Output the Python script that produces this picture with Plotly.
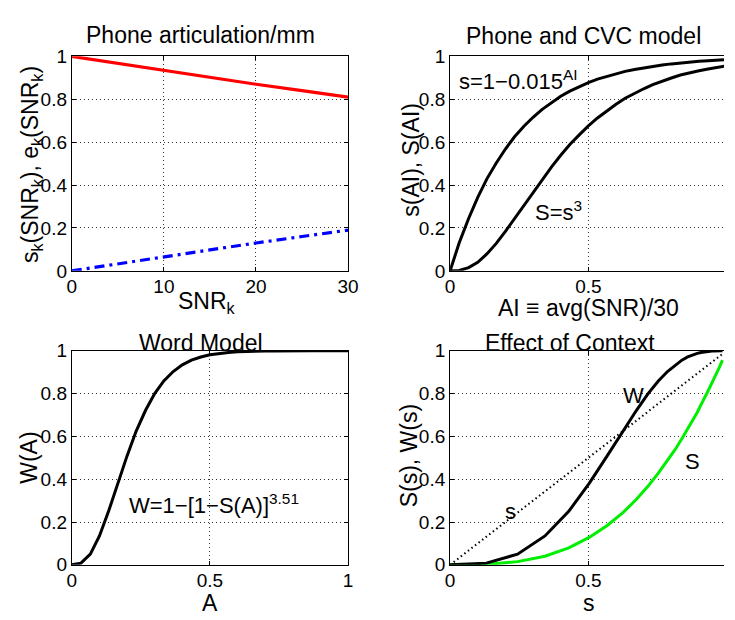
import plotly.graph_objects as go

# ---------------- data ----------------
snr = [0, 5, 10, 15, 20, 25, 30]
s_snr = [1.0, 0.967, 0.934, 0.902, 0.870, 0.840, 0.810]
e_snr = [0.0, 0.033, 0.066, 0.098, 0.130, 0.160, 0.190]

A_vals = [0.0, 0.033, 0.067, 0.1, 0.133, 0.167, 0.2, 0.233, 0.267, 0.3, 0.333,
          0.367, 0.4, 0.433, 0.467, 0.5, 0.533, 0.567, 0.6, 0.633, 0.667,
          0.7, 0.733, 0.767, 0.8, 0.833, 0.867, 0.9, 0.933, 0.967, 1.0]
s_vals = [0.0, 0.131, 0.244, 0.343, 0.429, 0.503, 0.568, 0.625, 0.674, 0.716, 0.753,
          0.786, 0.814, 0.838, 0.859, 0.878, 0.894, 0.907, 0.920, 0.930, 0.939,
          0.947, 0.954, 0.960, 0.965, 0.970, 0.974, 0.977, 0.980, 0.983, 0.985]
S_vals = [0.0, 0.002, 0.015, 0.040, 0.079, 0.128, 0.184, 0.244, 0.306, 0.368, 0.428,
          0.485, 0.539, 0.589, 0.634, 0.676, 0.713, 0.747, 0.777, 0.805, 0.829,
          0.849, 0.868, 0.885, 0.899, 0.913, 0.924, 0.933, 0.941, 0.950, 0.956]
W_vals = [0.0, 0.008, 0.050, 0.135, 0.250, 0.381, 0.509, 0.625, 0.722, 0.800, 0.859,
          0.903, 0.934, 0.956, 0.971, 0.981, 0.988, 0.992, 0.995, 0.997, 0.998,
          0.999, 0.999, 1.0, 1.0, 1.0, 1.0, 1.0, 1.0, 1.0, 1.0]

y_ticks = [0, 0.2, 0.4, 0.6, 0.8, 1]
snr_ticks = [0, 10, 20, 30]
unit_ticks = [0, 0.5, 1]

# ---------------- geometry ----------------
W, H = 735, 620          # final picture size
FONT = "Liberation Sans, Arial, Helvetica, sans-serif"
TXT = 23                 # titles, axis labels
TICK = 19


def px(x):
    return x / W


def py(y):
    return 1 - y / H


R0, RSCALE = 455.0, 282.7
right_max = (W - R0) / RSCALE      # the picture's right edge clips the right-hand axes just before x=1

left_dom = [px(68.3), px(350.7)]
right_dom = [px(R0), 1.0]
top_dom = [py(270.0), py(48.0)]
bot_dom = [py(574.3), py(352.7)]

fig = go.Figure()

fig.add_trace(go.Scatter(x=snr, y=s_snr, mode="lines", line=dict(color="#ff0000", width=3.2),
                         xaxis="x", yaxis="y", showlegend=False))
fig.add_trace(go.Scatter(x=snr, y=e_snr, mode="lines",
                         line=dict(color="#0000ff", width=3.2, dash="10px,5px,3px,5px"),
                         xaxis="x", yaxis="y", showlegend=False))
fig.add_trace(go.Scatter(x=A_vals, y=s_vals, mode="lines", line=dict(color="black", width=3),
                         xaxis="x2", yaxis="y2", showlegend=False))
fig.add_trace(go.Scatter(x=A_vals, y=S_vals, mode="lines", line=dict(color="black", width=3),
                         xaxis="x2", yaxis="y2", showlegend=False))
fig.add_trace(go.Scatter(x=A_vals, y=W_vals, mode="lines", line=dict(color="black", width=3),
                         xaxis="x3", yaxis="y3", showlegend=False))
fig.add_trace(go.Scatter(x=s_vals, y=s_vals, mode="lines", line=dict(color="black", width=2, dash="1.5px,3px"),
                         xaxis="x4", yaxis="y4", showlegend=False))
fig.add_trace(go.Scatter(x=s_vals, y=S_vals, mode="lines", line=dict(color="#00ee00", width=3),
                         xaxis="x4", yaxis="y4", showlegend=False))
fig.add_trace(go.Scatter(x=s_vals, y=W_vals, mode="lines", line=dict(color="black", width=3),
                         xaxis="x4", yaxis="y4", showlegend=False))

axis_common = dict(
    showline=True, linecolor="black", linewidth=1, mirror="ticks",
    ticks="inside", ticklen=4, tickcolor="black",
    showgrid=True, gridcolor="#333333", gridwidth=1, griddash="1px,3px",
    zeroline=False, tickfont=dict(family=FONT, size=TICK, color="black"),
    fixedrange=True,
)
x_common = dict(axis_common, ticklabelstandoff=-2)
right_y = dict(axis_common, mirror=False)

fig.update_layout(
    # initial size fits inside the default 8px page margin; post_script resizes to 735x620
    width=W - 16, height=H - 16, margin=dict(l=0, r=0, t=0, b=0),
    paper_bgcolor="white", plot_bgcolor="white",
    font=dict(family=FONT, size=TICK, color="black"),
    xaxis=dict(x_common, domain=left_dom, range=[0, 30], tickvals=snr_ticks, anchor="y"),
    yaxis=dict(axis_common, domain=top_dom, range=[0, 1], tickvals=y_ticks, anchor="x"),
    xaxis2=dict(x_common, domain=right_dom, range=[0, right_max], tickvals=unit_ticks, anchor="y2"),
    yaxis2=dict(right_y, domain=top_dom, range=[0, 1], tickvals=y_ticks, anchor="x2"),
    xaxis3=dict(x_common, domain=left_dom, range=[0, 1], tickvals=unit_ticks, anchor="y3"),
    yaxis3=dict(axis_common, domain=bot_dom, range=[0, 1], tickvals=y_ticks, anchor="x3"),
    xaxis4=dict(x_common, domain=right_dom, range=[0, right_max], tickvals=unit_ticks, anchor="y4"),
    yaxis4=dict(right_y, domain=bot_dom, range=[0, 1], tickvals=y_ticks, anchor="x4"),
)

ann = []


def paper_text(text, x, y, size=TXT, angle=0):
    ann.append(dict(text=text, x=px(x), y=py(y), xref="paper", yref="paper",
                    xanchor="center", yanchor="middle", showarrow=False, textangle=angle,
                    font=dict(family=FONT, size=size, color="black")))


def data_text(text, x, y, xr, yr, size=22, xanchor="left"):
    ann.append(dict(text=text, x=x, y=y, xref=xr, yref=yr, xanchor=xanchor, yanchor="middle",
                    showarrow=False, font=dict(family=FONT, size=size, color="black")))


# titles
paper_text("Phone articulation/mm", 200, 26)
paper_text("Phone and CVC model", 591, 27)
paper_text("Word Model", 200, 345)
paper_text("Effect of Context", 578, 345)

# x-axis labels
paper_text("SNR<sub>k</sub>", 206, 303)
paper_text("AI ≡ avg(SNR)/30", 596, 308)
paper_text("A", 210, 614)
paper_text("s", 597, 614)

# y-axis labels
paper_text("s<sub>k</sub>(SNR<sub>k</sub>), e<sub>k</sub>(SNR<sub>k</sub>)", 27, 160, angle=-90)
paper_text("s(AI), S(AI)", 415, 155, angle=-90)
paper_text("W(A)", 25, 463, angle=-90)
paper_text("S(s), W(s)", 413, 462, angle=-90)

# in-plot texts
data_text("s=1−0.015<sup>AI</sup>", 0.025, 0.892, "x2", "y2")
data_text("S=s<sup>3</sup>", 0.30, 0.28, "x2", "y2")
data_text("W=1−[1−S(A)]<sup>3.51</sup>", 0.20, 0.285, "x3", "y3")
data_text("W", 0.665, 0.79, "x4", "y4", xanchor="center")
data_text("S", 0.878, 0.484, "x4", "y4", xanchor="center")
data_text("s", 0.22, 0.25, "x4", "y4", xanchor="center")

fig.update_layout(annotations=ann)

fig.write_html(
    "out.html",
    config={"displayModeBar": False, "responsive": False},
    post_script=(
        "document.body.style.margin='0';document.body.style.overflow='hidden';"
        "var gd=document.getElementById('{plot_id}');"
        "gd.style.width='735px';gd.style.height='620px';"
        "Plotly.relayout(gd,{width:735,height:620});"
    ),
)
